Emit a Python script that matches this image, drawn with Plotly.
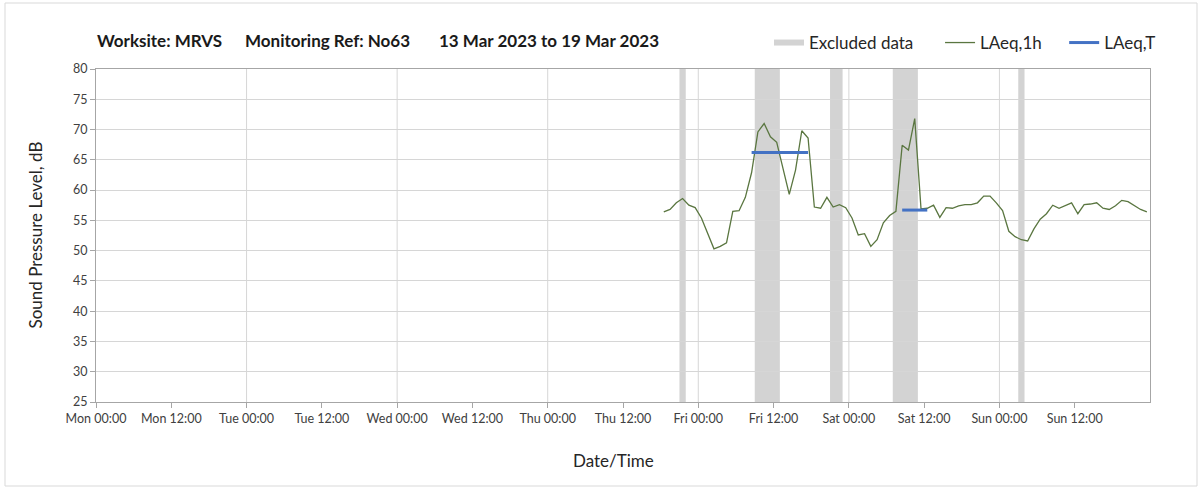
import pandas as pd
import plotly.graph_objects as go

# ---------------- data ----------------
laeq_1h_start = "2023-03-16 18:30"
laeq_1h_values = [
    56.4, 56.8, 57.9, 58.6, 57.5, 57.1, 55.4, 52.9, 50.3, 50.7,
    51.3, 56.5, 56.6, 58.8, 62.9, 69.6, 71.0, 68.8, 67.9, 63.6,
    59.3, 63.3, 69.8, 68.6, 57.2, 57.0, 58.8, 57.2, 57.6, 57.1,
    55.4, 52.6, 52.8, 50.7, 51.8, 54.6, 55.8, 56.5, 67.4, 66.6,
    71.8, 56.9, 57.0, 57.5, 55.5, 57.1, 57.0, 57.4, 57.6, 57.6,
    57.9, 59.0, 59.0, 57.9, 56.6, 53.2, 52.3, 51.8, 51.6, 53.6,
    55.2, 56.1, 57.5, 57.0, 57.5, 57.9, 56.1, 57.6, 57.7, 57.9,
    57.0, 56.8, 57.4, 58.3, 58.1, 57.5, 56.8, 56.4,
]
laeq_1h_times = pd.date_range(laeq_1h_start, periods=len(laeq_1h_values), freq="h")

laeq_t_periods = [
    ("2023-03-17 08:30", "2023-03-17 17:30", 66.2),
    ("2023-03-18 08:30", "2023-03-18 12:30", 56.7),
]

excluded_periods = [
    ("2023-03-16 21:00", "2023-03-16 22:00"),
    ("2023-03-17 09:00", "2023-03-17 13:00"),
    ("2023-03-17 21:00", "2023-03-17 23:00"),
    ("2023-03-18 07:00", "2023-03-18 11:00"),
    ("2023-03-19 03:00", "2023-03-19 04:00"),
]

x_start = "2023-03-13 00:00"
x_end = "2023-03-20 00:00"
day_lines = pd.date_range(x_start, x_end, freq="24h")
tick_times = pd.date_range(x_start, "2023-03-19 12:00", freq="12h")
tick_labels = ["Mon 00:00", "Mon 12:00", "Tue 00:00", "Tue 12:00", "Wed 00:00",
               "Wed 12:00", "Thu 00:00", "Thu 12:00", "Fri 00:00", "Fri 12:00",
               "Sat 00:00", "Sat 12:00", "Sun 00:00", "Sun 12:00"]
y_min, y_max, y_step = 25, 80, 5

title_parts = ["Worksite: MRVS", "Monitoring Ref: No63", "13 Mar 2023 to 19 Mar 2023"]
legend_names = ["Excluded data", "LAeq,1h", "LAeq,T"]

# ---------------- figure ----------------
FONT = "Lato"
GRID = "#d6d6d6"
AXIS = "#a6a6a6"
BAND = "#d3d3d3"
PAD = "&nbsp;"

fig = go.Figure()

# legend-only proxy for excluded data (kept off-range)
fig.add_trace(go.Scatter(
    x=[pd.Timestamp("2023-03-14 00:00"), pd.Timestamp("2023-03-14 01:00"),
       pd.Timestamp("2023-03-14 01:00"), pd.Timestamp("2023-03-14 00:00")],
    y=[0, 0, 1, 1], fill="toself", fillcolor=BAND, mode="none",
    name=legend_names[0] + PAD * 5, hoverinfo="skip"))

fig.add_trace(go.Scatter(
    x=laeq_1h_times, y=laeq_1h_values, mode="lines", name=legend_names[1] + PAD * 4,
    line=dict(color="#5a7640", width=1.3)))

first = True
for s, e, v in laeq_t_periods:
    fig.add_trace(go.Scatter(
        x=[s, e], y=[v, v], mode="lines", name=legend_names[2],
        line=dict(color="#4472c4", width=3), showlegend=first,
        legendgroup="laeqt"))
    first = False

shapes = []
for s, e in excluded_periods:
    shapes.append(dict(type="rect", xref="x", yref="paper", x0=s, x1=e, y0=0, y1=1,
                       fillcolor=BAND, line=dict(width=0), layer="below"))
for d in day_lines[1:-1]:
    shapes.append(dict(type="line", xref="x", yref="paper", x0=d, x1=d, y0=0, y1=1,
                       line=dict(color=GRID, width=1), layer="below"))
# outer chart border
shapes.append(dict(type="rect", xref="paper", yref="paper",
                   x0=(5 - 96) / 1054, x1=(1197 - 96) / 1054,
                   y0=(402 - 486) / 333, y1=(402 - 3) / 333,
                   line=dict(color="#d9d9d9", width=1), fillcolor="rgba(0,0,0,0)",
                   layer="below"))

annotations = []
title_x_px = [95, 243, 437]
for txt, px in zip(title_parts, title_x_px):
    annotations.append(dict(text=f"<b>{txt}</b>", xref="paper", yref="paper",
                            x=(px - 96) / 1054, y=(402 - 40) / 333,
                            xanchor="left", yanchor="middle", showarrow=False,
                            font=dict(family=FONT, size=17, color="#1a1a1a")))
annotations.append(dict(text="Sound Pressure Level, dB", xref="paper", yref="paper",
                        x=(35 - 96) / 1054, y=0.5, textangle=-90,
                        xanchor="center", yanchor="middle", showarrow=False,
                        font=dict(family=FONT, size=17, color="#262626")))
annotations.append(dict(text="Date/Time", xref="paper", yref="paper",
                        x=(613 - 96) / 1054, y=(402 - 460) / 333,
                        xanchor="center", yanchor="middle", showarrow=False,
                        font=dict(family=FONT, size=17, color="#262626")))

fig.update_layout(
    width=1203, height=490,
    margin=dict(l=96, r=53, t=69, b=88),
    paper_bgcolor="white", plot_bgcolor="white",
    font=dict(family=FONT, color="#404040"),
    showlegend=True,
    legend=dict(orientation="h", x=(769 - 96) / 1054, y=(402 - 43) / 333,
                xanchor="left", yanchor="middle", font=dict(family=FONT, size=17, color="#262626"),
                bgcolor="rgba(0,0,0,0)", itemwidth=30, traceorder="normal"),
    shapes=shapes, annotations=annotations,
    xaxis=dict(type="date", range=[x_start, x_end],
               tickvals=list(tick_times), ticktext=tick_labels,
               showgrid=False, zeroline=False,
               showline=True, linecolor=AXIS, linewidth=1, mirror=True,
               ticks="outside", ticklen=5, tickcolor=AXIS,
               tickfont=dict(family=FONT, size=12.5, color="#404040")),
    yaxis=dict(range=[y_min, y_max], dtick=y_step, tick0=y_min,
               showgrid=True, gridcolor=GRID, gridwidth=1, zeroline=False,
               showline=True, linecolor=AXIS, linewidth=1, mirror=True,
               ticks="outside", ticklen=5, tickcolor=AXIS,
               tickfont=dict(family=FONT, size=12.5, color="#404040")),
)

fig.write_html("out.html", config={"displayModeBar": False},
               post_script="document.body.style.margin='0';document.body.style.overflow='hidden';")
